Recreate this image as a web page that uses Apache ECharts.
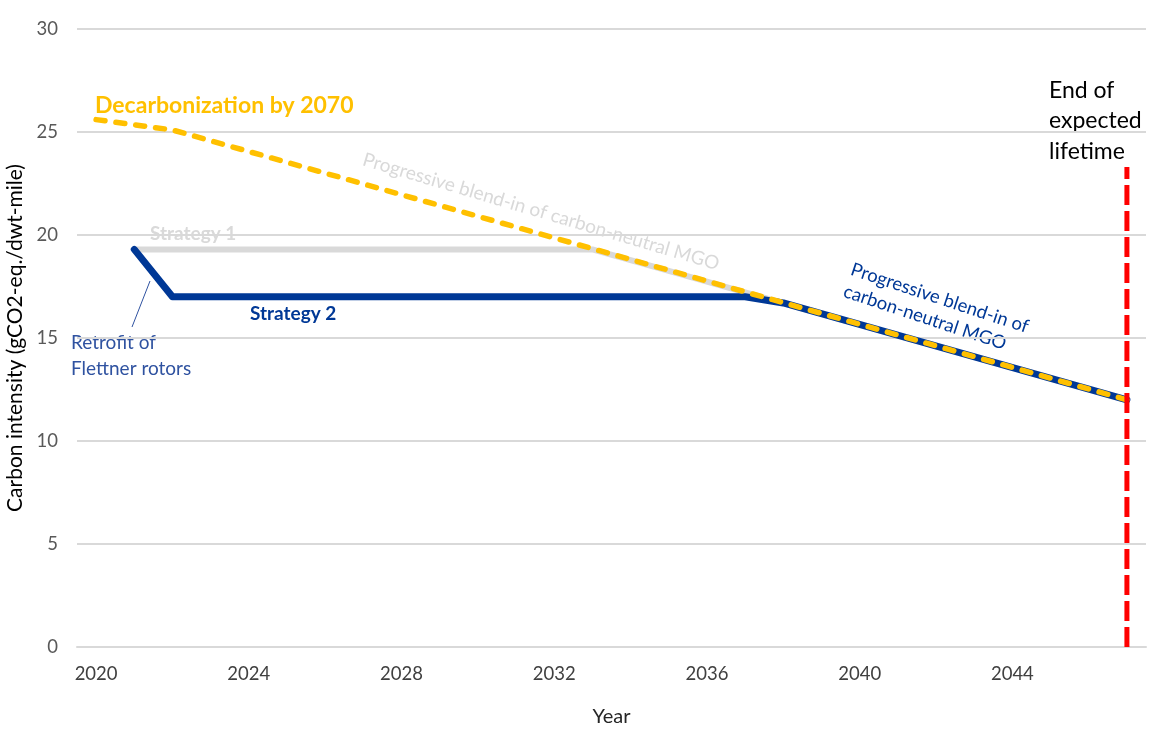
<!DOCTYPE html>
<html>
<head>
<meta charset="utf-8">
<script src="https://cdn.jsdelivr.net/npm/echarts@6/dist/echarts.min.js"></script>
<style>
	html, body { margin: 0; padding: 0; background: #fff; }
	#chart { width: 1163px; height: 742px; }
</style>
</head>
<body>
<div id="chart"></div>
<script>
// years on the category axis
const years = [];
for (let y = 2020; y <= 2047; y++) years.push(String(y));

// [year, gCO2-eq./dwt-mile] at the break points of each line
const decarb = [["2020", 25.6], ["2022", 25.1], ["2047", 12.0]];
const strategy1 = [["2021", 19.3], ["2033", 19.3], ["2047", 12.0]];
const strategy2 = [["2021", 19.3], ["2022", 17.0], ["2037", 17.0], ["2038", 16.7], ["2047", 12.0]];
const endOfLife = [["2047", 0], ["2047", 23.3]];

const FONT = "Lato, 'Open Sans', sans-serif";
const BLUE = "#003896";
const GOLD = "#FFC000";
const GREY = "#D9D9D9";

let myChart = echarts.init(document.getElementById("chart"));
let option = {
	animation: false,
	textStyle: { fontFamily: FONT },
	grid: { left: 77, right: 17, top: 29, bottom: 95, containLabel: false, outerBoundsMode: "none" },
	xAxis: {
		type: "category",
		data: years,
		boundaryGap: true,
		name: "Year",
		nameLocation: "middle",
		nameGap: 60,
		nameTextStyle: { fontSize: 20, color: "#262626", fontFamily: FONT },
		axisLine: { lineStyle: { color: GREY, width: 2 } },
		axisTick: { show: false },
		axisLabel: { interval: 3, color: "#404040", fontSize: 18.5, margin: 18, fontFamily: FONT },
		splitLine: { show: false },
	},
	yAxis: {
		type: "value",
		min: 0,
		max: 30,
		interval: 5,
		name: "Carbon intensity (gCO2-eq./dwt-mile)",
		nameLocation: "middle",
		nameGap: 50,
		nameTextStyle: { fontSize: 21, color: "#000", fontFamily: FONT },
		axisLine: { show: false },
		axisTick: { show: false },
		axisLabel: { color: "#595959", fontSize: 18.5, margin: 19, fontFamily: FONT },
		splitLine: { lineStyle: { color: GREY, width: 2 } },
	},
	series: [
		{
			name: "Strategy 1",
			type: "line",
			data: strategy1,
			symbol: "none",
			lineStyle: { color: GREY, width: 6 },
			z: 2,
		},
		{
			name: "Strategy 2",
			type: "line",
			data: strategy2,
			symbol: "none",
			lineStyle: { color: BLUE, width: 7, join: "round", cap: "round" },
			z: 3,
		},
		{
			name: "Decarbonization by 2070",
			type: "line",
			data: decarb,
			symbol: "none",
			lineStyle: { color: GOLD, width: 5.5, type: [9, 11], cap: "round" },
			z: 4,
		},
		{
			name: "End of expected lifetime",
			type: "line",
			data: endOfLife,
			symbol: "none",
			lineStyle: { color: "#FF0000", width: 5, type: [20, 6] },
			z: 5,
		},
	],
	graphic: [
		{
			type: "text", left: 95, top: 94,
			style: { text: "Decarbonization by 2070", fill: GOLD, font: "bold 23px " + FONT },
		},
		{
			type: "text", left: 150, top: 224,
			style: { text: "Strategy 1", fill: GREY, font: "bold 19px " + FONT },
		},
		{
			type: "text", left: 250, top: 304,
			style: { text: "Strategy 2", fill: BLUE, font: "bold 19px " + FONT },
		},
		{
			type: "text", left: 71, top: 330,
			style: { text: "Retrofit of\nFlettner rotors", fill: "#2F52A0", font: "19px " + FONT, lineHeight: 26 },
		},
		{
			type: "line",
			shape: { x1: 132, y1: 327, x2: 150, y2: 281 },
			style: { stroke: "#2F52A0", lineWidth: 1 },
		},
		{
			type: "text", x: 366, y: 150, rotation: -0.288,
			style: { text: "Progressive blend-in of carbon-neutral MGO", fill: GREY, font: "19px " + FONT },
		},
		{
			type: "text", x: 855, y: 258, rotation: -0.32,
			style: { text: "Progressive blend-in of\ncarbon-neutral MGO", fill: BLUE, font: "18.5px " + FONT, lineHeight: 23, align: "left" },
		},
		{
			type: "text", left: 1049, top: 75,
			style: { text: "End of\nexpected\nlifetime", fill: "#000", font: "23px " + FONT, lineHeight: 30.5 },
		},
	],
};
myChart.setOption(option);
</script>
</body>
</html>
